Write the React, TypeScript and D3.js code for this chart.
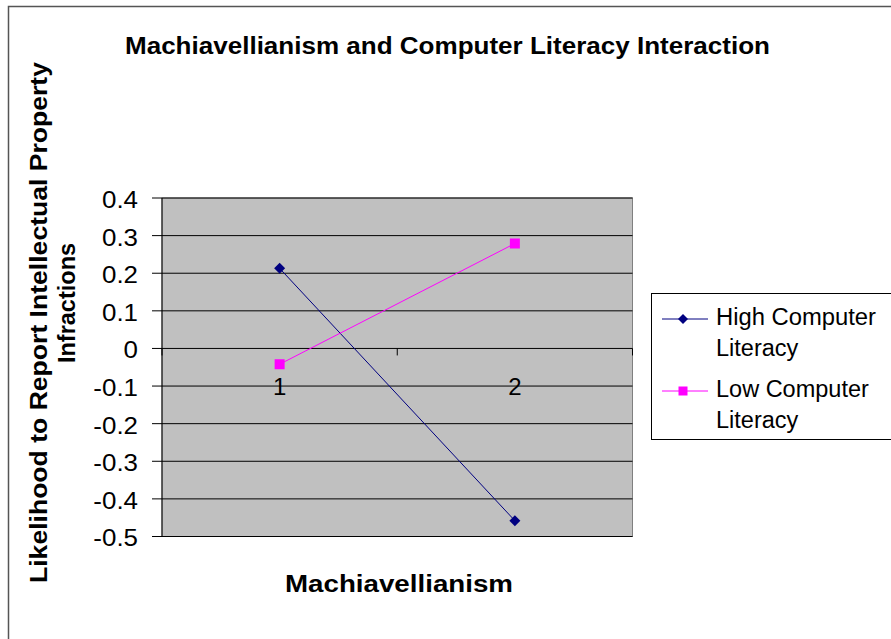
import React from "react";
import * as d3 from "d3";

const categories = ["1", "2"];
const highValues = [0.213, -0.458];
const lowValues = [-0.042, 0.279];
const yTicks = [0.4, 0.3, 0.2, 0.1, 0, -0.1, -0.2, -0.3, -0.4, -0.5];
const seriesNames = ["High Computer Literacy", "Low Computer Literacy"];

const W = 891, H = 639;
const plot = { left: 162, right: 632.5, top: 198, bottom: 536.5 };
const font = "'Liberation Sans', Arial, sans-serif";

export default function App() {
  const x = d3.scaleBand<string>().domain(categories).range([plot.left, plot.right]);
  const y = d3.scaleLinear().domain([-0.5, 0.4]).range([plot.bottom, plot.top]);
  const cx = (c: string) => (x(c) as number) + x.bandwidth() / 2;
  const line = d3.line<[number, number]>().x((d) => d[0]).y((d) => d[1]);
  const highPts: [number, number][] = categories.map((c, i) => [cx(c), y(highValues[i])]);
  const lowPts: [number, number][] = categories.map((c, i) => [cx(c), y(lowValues[i])]);
  const diamond = d3.symbol(d3.symbolDiamond2, 77)() as string;
  const diamondSmall = d3.symbol(d3.symbolDiamond2, 64)() as string;
  const y0 = y(0);
  const xTickPos = [plot.left, ...categories.map((c) => (x(c) as number) + x.bandwidth())];
  const fmt = (t: number) => (t === 0 ? "0" : (t < 0 ? "-" : "") + d3.format(".1f")(Math.abs(t)));

  return (
    <svg width={W} height={H} style={{ position: "absolute", left: 0, top: 0 }} fontFamily={font}>
      <rect x={0} y={0} width={W} height={H} fill="#fff" />
      <rect x={8.5} y={6.5} width={W + 10} height={H + 10} fill="none" stroke="#555" strokeWidth={1.5} />
      <text x={447.5} y={54} textAnchor="middle" fontSize={23.5} fontWeight="bold" textLength={645} lengthAdjust="spacingAndGlyphs">
        Machiavellianism and Computer Literacy Interaction
      </text>
      <rect x={plot.left} y={plot.top} width={plot.right - plot.left} height={plot.bottom - plot.top} fill="#C0C0C0" stroke="#808080" strokeWidth={1} />
      {yTicks.map((t) => (
        <g key={t}>
          <line x1={plot.left} x2={plot.right} y1={y(t)} y2={y(t)} stroke="#000" strokeWidth={1} />
          <line x1={plot.left - 10} x2={plot.left} y1={y(t)} y2={y(t)} stroke="#000" strokeWidth={1} />
          <text x={138} y={y(t) + 10} textAnchor="end" fontSize={24} transform={`translate(138,0) scale(1.08,1) translate(-138,0)`}>
            {fmt(t)}
          </text>
        </g>
      ))}
      <line x1={plot.left} x2={plot.left} y1={plot.top} y2={plot.bottom} stroke="#000" strokeWidth={1} />
      {xTickPos.map((p, i) => (
        <line key={i} x1={p} x2={p} y1={y0} y2={y0 + 7} stroke="#000" strokeWidth={1} />
      ))}
      {categories.map((c) => (
        <text key={c} x={cx(c)} y={395} textAnchor="middle" fontSize={24}>{c}</text>
      ))}
      <path d={line(highPts) as string} fill="none" stroke="#000080" strokeWidth={1} />
      <path d={line(lowPts) as string} fill="none" stroke="#FF00FF" strokeWidth={1} />
      {highPts.map((p, i) => (
        <path key={i} d={diamond} transform={`translate(${p[0]},${p[1]})`} fill="#000080" />
      ))}
      {lowPts.map((p, i) => (
        <rect key={i} x={p[0] - 5} y={p[1] - 5} width={10} height={10} fill="#FF00FF" />
      ))}
      <text x={399} y={592} textAnchor="middle" fontSize={23.5} fontWeight="bold" textLength={228} lengthAdjust="spacingAndGlyphs">Machiavellianism</text>
      <g transform="translate(47,322.5) rotate(-90)">
        <text x={0} y={0} textAnchor="middle" fontSize={23.5} fontWeight="bold" textLength={521} lengthAdjust="spacingAndGlyphs">
          Likelihood to Report Intellectual Property
        </text>
      </g>
      <g transform="translate(75,303) rotate(-90)">
        <text x={0} y={0} textAnchor="middle" fontSize={23.5} fontWeight="bold">Infractions</text>
      </g>
      <rect x={651.5} y={293.5} width={260} height={146} fill="#fff" stroke="#000" strokeWidth={1} />
      <line x1={662} x2={708} y1={319} y2={319} stroke="#000080" strokeWidth={1} />
      <path d={diamondSmall} transform="translate(683,319)" fill="#000080" />
      <text x={716} y={325} fontSize={23.5} textLength={160} lengthAdjust="spacingAndGlyphs">High Computer</text>
      <text x={716} y={356} fontSize={23.5}>Literacy</text>
      <line x1={662} x2={708} y1={391} y2={391} stroke="#FF00FF" strokeWidth={1} />
      <rect x={678.5} y={386.5} width={9} height={9} fill="#FF00FF" />
      <text x={716} y={397} fontSize={23.5}>Low Computer</text>
      <text x={716} y={428} fontSize={23.5}>Literacy</text>
      <title>{seriesNames.join(", ")}</title>
    </svg>
  );
}
